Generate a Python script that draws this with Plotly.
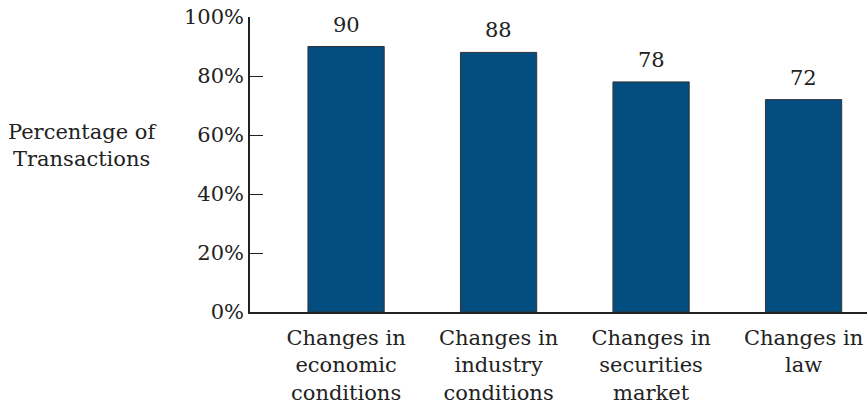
import plotly.graph_objects as go

categories = ["Changes in<br>economic<br>conditions", "Changes in<br>industry<br>conditions",
              "Changes in<br>securities<br>market", "Changes in<br>law"]
values = [90, 88, 78, 72]
y_ticks = [0, 20, 40, 60, 80, 100]
y_tick_labels = ["0%", "20%", "40%", "60%", "80%", "100%"]

FONT = "DejaVu Serif"
fig = go.Figure()
fig.add_trace(go.Bar(
    x=list(range(len(categories))), y=values,
    marker=dict(color="#034d80", line=dict(color="#333333", width=1)),
    width=0.5,
))
for i, v in enumerate(values):
    fig.add_annotation(x=i, y=v, text=str(v), showarrow=False, yanchor="bottom",
                       yshift=8, font=dict(family=FONT, size=21, color="#222222"))
fig.add_annotation(x=-0.2707, y=0.566, xref="paper", yref="paper", xanchor="center", yanchor="middle",
                   text="Percentage of<br>Transactions",
                   showarrow=False, font=dict(family=FONT, size=21, color="#222222"))
fig.update_layout(
    width=867, height=412, margin=dict(l=250, r=0, t=17, b=100),
    plot_bgcolor="white", paper_bgcolor="white", showlegend=False,
    font=dict(family=FONT, size=21, color="#222222"),
)
fig.update_xaxes(range=[-0.63, 3.416], tickmode="array", tickvals=list(range(len(categories))),
                 ticktext=categories, showline=True, linecolor="#222222", linewidth=1.5,
                 showgrid=False, zeroline=False, ticks="", fixedrange=True, ticklabelstandoff=6)
fig.update_yaxes(range=[0, 100], tickmode="array", tickvals=y_ticks, ticktext=y_tick_labels,
                 showline=True, linecolor="#222222", linewidth=1.5, ticks="inside", ticklen=13,
                 tickcolor="#222222", tickwidth=1.2, showgrid=False, zeroline=False, fixedrange=True)
fig.write_html("out.html")
